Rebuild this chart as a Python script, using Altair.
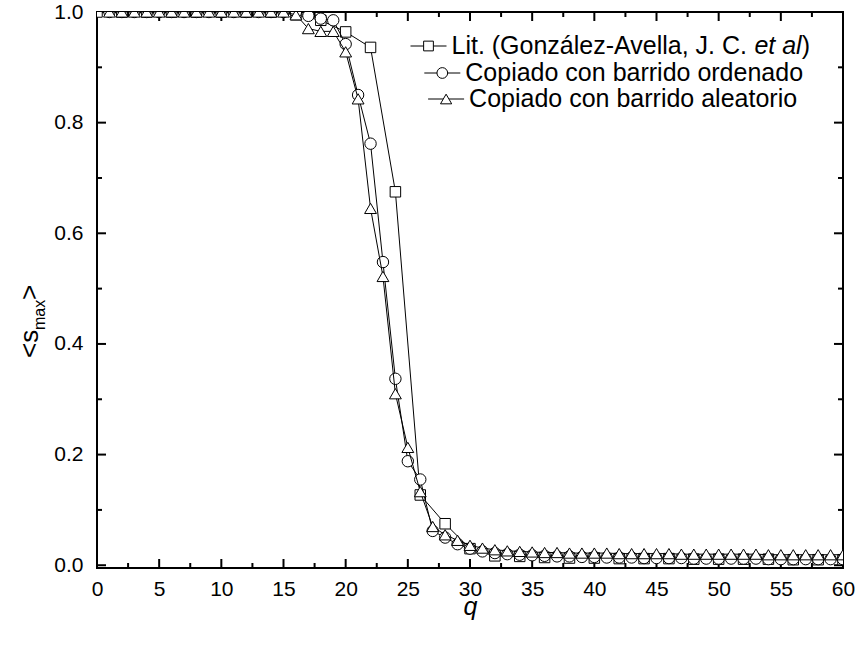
import altair as alt
import pandas as pd

# ---------------- data ----------------
q_lit = [0, 2, 4, 6, 8, 10, 12, 14, 16, 18, 20, 22, 24, 26, 28, 30,
         32, 34, 36, 38, 40, 42, 44, 46, 48, 50, 52, 54, 56, 58, 60]
s_lit = [1.0, 1.0, 1.0, 1.0, 1.0, 1.0, 1.0, 1.0, 0.995, 0.985, 0.964, 0.936,
         0.675, 0.127, 0.075, 0.030, 0.017, 0.016, 0.014, 0.013, 0.013, 0.012,
         0.012, 0.012, 0.011, 0.011, 0.011, 0.011, 0.010, 0.010, 0.010]

q_sim = [1, 2, 3, 4, 5, 6, 7, 8, 9, 10, 11, 12, 13, 14, 15, 16, 17, 18, 19, 20,
         21, 22, 23, 24, 25, 26, 27, 28, 29, 30, 31, 32, 33, 34, 35, 36, 37, 38, 39, 40,
         41, 42, 43, 44, 45, 46, 47, 48, 49, 50, 51, 52, 53, 54, 55, 56, 57, 58, 59, 60]
s_ord = [1.0, 1.0, 1.0, 1.0, 1.0, 1.0, 1.0, 1.0, 1.0, 1.0, 1.0, 1.0, 1.0, 1.0, 1.0, 1.0,
         0.993, 0.988, 0.985, 0.942, 0.850, 0.762, 0.548, 0.337, 0.188, 0.155, 0.062,
         0.050, 0.038, 0.030, 0.025, 0.022, 0.020, 0.019, 0.018, 0.017, 0.016, 0.016,
         0.015, 0.015, 0.014, 0.014, 0.014, 0.013, 0.013, 0.013, 0.013, 0.012, 0.012,
         0.012, 0.012, 0.012, 0.012, 0.011, 0.011, 0.011, 0.011, 0.011, 0.011, 0.011]
s_ale = [1.0, 1.0, 1.0, 1.0, 1.0, 1.0, 1.0, 1.0, 1.0, 1.0, 1.0, 1.0, 1.0, 1.0, 1.0, 0.995,
         0.970, 0.965, 0.965, 0.928, 0.843, 0.645, 0.522, 0.310, 0.213, 0.133, 0.070,
         0.055, 0.045, 0.036, 0.031, 0.028, 0.026, 0.025, 0.024, 0.023, 0.023, 0.022,
         0.022, 0.022, 0.022, 0.021, 0.021, 0.021, 0.021, 0.021, 0.020, 0.020, 0.020,
         0.020, 0.020, 0.020, 0.020, 0.019, 0.019, 0.019, 0.019, 0.019, 0.019, 0.019]

series_names = ["Lit. (González-Avella, J. C. et al)",
                "Copiado con barrido ordenado",
                "Copiado con barrido aleatorio"]
# legend text pieces (row 1 has an italic "et al")
leg_text = ["Lit. (González-Avella, J. C. ",
            "Copiado con barrido ordenado",
            "Copiado con barrido aleatorio"]
leg_italic = "et al"
leg_close = ")"

x_major = [0, 5, 10, 15, 20, 25, 30, 35, 40, 45, 50, 55, 60]
x_minor = [2.5, 7.5, 12.5, 17.5, 22.5, 27.5, 32.5, 37.5, 42.5, 47.5, 52.5, 57.5]
y_major = [0.0, 0.2, 0.4, 0.6, 0.8, 1.0]
y_minor = [0.1, 0.3, 0.5, 0.7, 0.9]

# ---------------- tables ----------------
df = pd.concat([
    pd.DataFrame({"series": series_names[0], "q": q_lit, "s": s_lit}),
    pd.DataFrame({"series": series_names[1], "q": q_sim, "s": s_ord}),
    pd.DataFrame({"series": series_names[2], "q": q_sim, "s": s_ale}),
], ignore_index=True)

FONT = "Liberation Sans"
W, H = 746, 556
MAJ, MIN = 9, 5

xs = alt.Scale(domain=[0, 60], nice=False, zero=False)
ys = alt.Scale(domain=[-0.005, 1.0], nice=False, zero=False)

base = alt.Chart(df)

# axis labels only (ticks are drawn below as rules, pointing inward)
axis_layer = base.mark_point().encode(
    x=alt.X("q:Q", scale=xs, axis=alt.Axis(
        orient="bottom", values=x_major, format="d", grid=False, domain=False,
        ticks=True, tickSize=0, labelPadding=10, labelFlush=False, labelFont=FONT,
        labelFontSize=21, labelColor="black", title="q", titleFont=FONT,
        titleFontSize=25, titleFontStyle="italic", titleFontWeight="normal",
        titleColor="black", titleBaseline="alphabetic", titleY=46)),
    y=alt.Y("s:Q", scale=ys, axis=alt.Axis(
        orient="left", values=y_major, format=".1f", grid=False, domain=False,
        ticks=True, tickSize=0, labelPadding=14, labelFlush=False, labelFont=FONT,
        labelFontSize=21, labelColor="black", title="")),
).transform_filter("false")


def xticks(vals, y0, y1):
    return alt.Chart(pd.DataFrame({"v": vals})).mark_rule(
        color="black", strokeWidth=2).encode(
        x=alt.X("v:Q", scale=xs, axis=None), y=alt.value(y0), y2=alt.value(y1))


def yticks(vals, x0, x1):
    return alt.Chart(pd.DataFrame({"v": vals})).mark_rule(
        color="black", strokeWidth=2).encode(
        y=alt.Y("v:Q", scale=ys, axis=None), x=alt.value(x0), x2=alt.value(x1))


tick_layers = [
    xticks(x_major, H, H - MAJ), xticks(x_minor, H, H - MIN),
    xticks(x_major, 0, MAJ), xticks(x_minor, 0, MIN),
    yticks(y_major, 0, MAJ), yticks(y_minor, 0, MIN),
    yticks(y_major, W, W - MAJ), yticks(y_minor, W, W - MIN),
]

shapes = ["square", "circle", "triangle-up"]
sizes = [110, 130, 140]

data_layers = []
for name, shp, sz in zip(series_names, shapes, sizes):
    sub = base.transform_filter(alt.datum.series == name)
    enc = dict(x=alt.X("q:Q", scale=xs, axis=None), y=alt.Y("s:Q", scale=ys, axis=None))
    line = sub.mark_line(color="black", strokeWidth=1, clip=True).encode(**enc)
    pts = sub.mark_point(shape=shp, size=sz, filled=True, fill="white",
                         stroke="black", strokeWidth=1, opacity=1, clip=True).encode(**enc)
    data_layers += [line, pts]

# ---------------- legend (drawn in plot-pixel positions) ----------------
LFS = 25
leg_start = [354.5, 368.3, 372.1]     # label left edge
leg_yc = [34, 61, 87]                 # row centre
SYM_HALF, GAP = 18, 5
one = pd.DataFrame({"k": [0]})
legend_layers = []
for i in range(3):
    c = leg_start[i] - GAP - SYM_HALF
    legend_layers.append(alt.Chart(one).mark_rule(color="black", strokeWidth=1).encode(
        x=alt.value(c - SYM_HALF), x2=alt.value(c + SYM_HALF), y=alt.value(leg_yc[i])))
    legend_layers.append(alt.Chart(one).mark_point(
        shape=shapes[i], size=sizes[i] - 15, filled=True, fill="white", stroke="black",
        strokeWidth=1, opacity=1).encode(x=alt.value(c), y=alt.value(leg_yc[i])))
    legend_layers.append(alt.Chart(one).mark_text(
        text=leg_text[i], align="left", baseline="middle", font=FONT, fontSize=LFS,
        color="black").encode(x=alt.value(leg_start[i]), y=alt.value(leg_yc[i])))
w_main = 12.115 * LFS
w_it = 1.89 * LFS
legend_layers.append(alt.Chart(one).mark_text(
    text=leg_italic, align="left", baseline="middle", font=FONT, fontSize=LFS,
    fontStyle="italic", color="black").encode(
    x=alt.value(leg_start[0] + w_main), y=alt.value(leg_yc[0])))
legend_layers.append(alt.Chart(one).mark_text(
    text=leg_close, align="left", baseline="middle", font=FONT, fontSize=LFS,
    color="black").encode(
    x=alt.value(leg_start[0] + w_main + w_it), y=alt.value(leg_yc[0])))

# ---------------- y title: <s_max> ----------------
ytitle = [
    alt.Chart(one).mark_text(text="<s", angle=270, align="left", baseline="middle",
                             font=FONT, fontSize=26, color="black").encode(
        x=alt.value(-67), y=alt.value(346)),
    alt.Chart(one).mark_text(text="max", angle=270, align="left", baseline="middle",
                             font=FONT, fontSize=16, color="black").encode(
        x=alt.value(-57), y=alt.value(318)),
    alt.Chart(one).mark_text(text=">", angle=270, align="left", baseline="middle",
                             font=FONT, fontSize=26, color="black").encode(
        x=alt.value(-67), y=alt.value(288)),
]

chart = alt.layer(axis_layer, *tick_layers, *data_layers, *legend_layers, *ytitle).resolve_axis(
    x="independent", y="independent"
).properties(
    width=W, height=H,
    autosize=alt.AutoSizeParams(type="none"),
    padding={"left": 97, "top": 12, "right": 14, "bottom": 83},
    background="white",
).configure_view(stroke="black", strokeWidth=2)

chart.save("out.html", embed_options={"renderer": "svg", "actions": False})
